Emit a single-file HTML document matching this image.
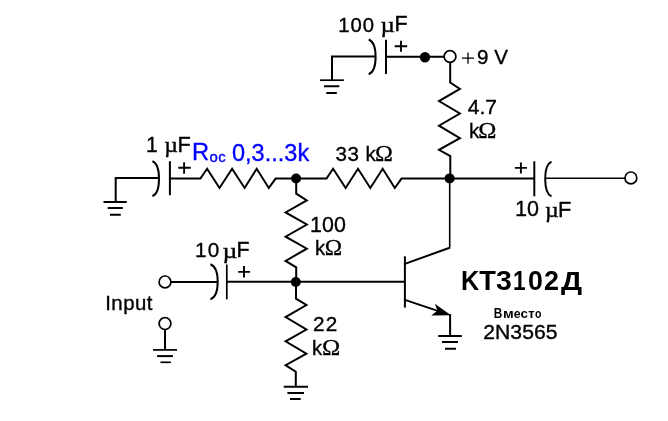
<!DOCTYPE html>
<html><head><meta charset="utf-8">
<style>
html,body{margin:0;padding:0;background:#fff;width:668px;height:421px;overflow:hidden}
svg{display:block;will-change:transform}
.w{fill:none;stroke:#000;stroke-width:2;stroke-linejoin:miter;stroke-linecap:butt}
.p{fill:none;stroke:#000;stroke-width:1.9}
.o{fill:#fff;stroke:#000;stroke-width:1.7}
</style></head><body>
<svg width="668" height="421" viewBox="0 0 668 421">
<!-- TOP: 100uF cap -->
<path class="w" d="M332 80.2V56.6H376"/>
<path class="w" style="stroke-width:1.7" d="M319.9 80.2H343.9"/>
<path class="w" d="M324 86.2H339.3M326.3 93H336.8"/>
<path class="w" d="M368.7 39.5C373.7 41.5 375.6 47.3 375.6 56.9S373.7 72.2 368.7 74.2"/>
<path class="w" d="M386 39.7V73.9M386 56.7H444"/>
<path class="p" d="M394.7 46.2H407.2M401 40.8V51.7"/>
<circle cx="425" cy="57.2" r="5.2"/>
<circle cx="450" cy="56.5" r="5.9" class="o"/>
<path class="p" style="stroke-width:1.3" d="M462 58.1H474M468 52.4V63.8"/>
<!-- 4.7k resistor -->
<path class="w" d="M450.2 62.4V82.5L459.9 88.9L439 101.1L459.9 113.5L439 125.7L459.9 138.1L439 149.8L450.3 156.2V178.3"/>
<!-- middle row -->
<path class="w" d="M115.7 201.9V178.1H160"/>
<path class="w" d="M103.5 201.9H126.7M107.7 207.9H122.8M110 214.7H120.8"/>
<path class="w" d="M152.4 161.2C157.2 163.2 159.0 169.1 159.0 178.7S157.2 194.2 152.4 196.2"/>
<path class="w" d="M169.9 161.2V195.3M169.9 178.6H200.4L207.1 168.8L219.5 188L232.1 168.8L244.6 188L256.7 168.8L268.8 188L275.6 178.6H326.5L333.1 168.8L345.6 188L358 168.8L370.3 188L382.7 168.8L394.8 188L401.5 178.6H534.3"/>
<path class="p" d="M178.3 167.8H190.7M184.1 162.3V173.7"/>
<circle cx="296.1" cy="178.5" r="5.0"/>
<circle cx="449.6" cy="178.4" r="5.0"/>
<path class="w" d="M534.3 161.3V196.3"/>
<path class="w" d="M551.5 161.6C547.0 163.6 545.2 169.4 545.2 178.9S547.0 194.3 551.5 196.3"/>
<path class="p" d="M514.9 167.9H526.9M520.9 162.4V173.6"/>
<path class="w" style="stroke-width:1.6" d="M545 178.3H625"/>
<circle cx="630.9" cy="177.9" r="5.9" class="o"/>
<!-- 100k -->
<path class="w" d="M296.2 178.6V193.6L306.8 200.4L285.6 212.4L306.8 224.5L285.6 236.7L306.8 248.7L285.6 260.9L296.2 267.3V282"/>
<!-- base line -->
<path class="w" d="M171 282H218"/>
<path class="w" d="M210.4 264.2C215.7 266.2 217.7 272.1 217.7 281.8S215.7 297.4 210.4 299.4"/>
<path class="w" style="stroke-width:1.7" d="M226.8 264.5V299.4"/>
<path class="w" d="M227 281.8H405"/>
<path class="p" d="M238.2 271.9H250M244 266.1V277.6"/>
<circle cx="165" cy="281.9" r="5.9" class="o"/>
<circle cx="295.8" cy="282" r="5.0"/>
<circle cx="165" cy="323.6" r="5.9" class="o"/>
<path class="w" d="M165 329.5V349.9"/>
<path class="w" style="stroke-width:1.7" d="M153 349.9H177"/>
<path class="w" d="M157.1 356.1H172.9"/>
<path class="w" style="stroke-width:1.7" d="M160.4 362.3H170.9"/>
<!-- 22k -->
<path class="w" d="M296 282.3V298.6L306.4 305L285.6 317.1L306.4 329.5L285.6 341.3L306.4 353.7L285.6 365.2L295.8 371.7V386.8"/>
<path class="w" d="M283.8 386.8H308M287.4 393H304M290 399.1H300.7"/>
<!-- transistor -->
<path class="w" d="M404.9 256.3V307.6"/>
<path class="w" d="M404.9 263.9L449.7 247.7"/>
<path class="w" style="stroke-width:1.6" d="M449.7 248.6V178.3"/>
<path class="w" d="M404.9 299.9L440 311.6"/>
<path d="M434.8 303.8L451 315.2L431.3 315.6L437.5 310.6Z" fill="#000"/>
<path class="w" d="M450.1 314V335.9"/>
<path class="w" d="M438.3 335.9H461.8M442 342.1H458M445 348.7H456"/>
<text x="338.2" y="31.8" style="font-family:'Liberation Sans',sans-serif;font-size:20.28px;letter-spacing:0.95px" fill="#000" stroke="#000" stroke-width="0.35">100</text>
<text transform="translate(380.6,32.2) scale(1.22,1)" style="font-family:'Liberation Serif',serif;font-size:20.5px" fill="#000" stroke="#000" stroke-width="0.35">µ</text>
<text x="394.4" y="31.1" style="font-family:'Liberation Sans',sans-serif;font-size:21.59px" fill="#000" stroke="#000" stroke-width="0.35">F</text>
<text x="476.9" y="64.1" style="font-family:'Liberation Sans',sans-serif;font-size:20.56px;letter-spacing:0.05px" fill="#000" stroke="#000" stroke-width="0.35">9 V</text>
<text x="467.7" y="114.1" style="font-family:'Liberation Sans',sans-serif;font-size:21.0px;letter-spacing:0.05px" fill="#000" stroke="#000" stroke-width="0.35">4.7</text>
<text x="469" y="138" style="font-family:'Liberation Sans',sans-serif;font-size:20.55px" fill="#000" stroke="#000" stroke-width="0.35">k</text>
<text transform="translate(478.3,138.3) scale(1.04,1)" style="font-family:'Liberation Serif',serif;font-size:23.48px" fill="#000" stroke="#000" stroke-width="0.35">Ω</text>
<text x="145.9" y="152.4" style="font-family:'Liberation Sans',sans-serif;font-size:21.16px" fill="#000" stroke="#000" stroke-width="0.35">1</text>
<text transform="translate(164.2,152.1) scale(1.16,1)" style="font-family:'Liberation Serif',serif;font-size:20.5px" fill="#000" stroke="#000" stroke-width="0.35">µ</text>
<text x="177.5" y="152" style="font-family:'Liberation Sans',sans-serif;font-size:21.74px" fill="#000" stroke="#000" stroke-width="0.35">F</text>
<text x="335.5" y="160.8" style="font-family:'Liberation Sans',sans-serif;font-size:20.54px;letter-spacing:0.47px" fill="#000" stroke="#000" stroke-width="0.35">33 k</text>
<text transform="translate(375,160.5) scale(1.027,1)" style="font-family:'Liberation Serif',serif;font-size:23.48px" fill="#000" stroke="#000" stroke-width="0.35">Ω</text>
<text x="514.9" y="216.4" style="font-family:'Liberation Sans',sans-serif;font-size:21.55px;letter-spacing:0.2px" fill="#000" stroke="#000" stroke-width="0.35">10</text>
<text transform="translate(545.1,217.2) scale(1.16,1)" style="font-family:'Liberation Serif',serif;font-size:20.5px" fill="#000" stroke="#000" stroke-width="0.35">µ</text>
<text x="558.1" y="216.5" style="font-family:'Liberation Sans',sans-serif;font-size:21.74px" fill="#000" stroke="#000" stroke-width="0.35">F</text>
<text x="310.1" y="232.1" style="font-family:'Liberation Sans',sans-serif;font-size:21.41px" fill="#000" stroke="#000" stroke-width="0.35">100</text>
<text x="315" y="255" style="font-family:'Liberation Sans',sans-serif;font-size:20.27px" fill="#000" stroke="#000" stroke-width="0.35">k</text>
<text transform="translate(324.7,255.3) scale(1.007,1)" style="font-family:'Liberation Serif',serif;font-size:23.18px" fill="#000" stroke="#000" stroke-width="0.35">Ω</text>
<text x="195.1" y="257.2" style="font-family:'Liberation Sans',sans-serif;font-size:20.7px;letter-spacing:1.2px" fill="#000" stroke="#000" stroke-width="0.35">10</text>
<text transform="translate(222.5,258) scale(1.26,1)" style="font-family:'Liberation Serif',serif;font-size:20.5px" fill="#000" stroke="#000" stroke-width="0.35">µ</text>
<text x="236.4" y="257.2" style="font-family:'Liberation Sans',sans-serif;font-size:21.3px" fill="#000" stroke="#000" stroke-width="0.35">F</text>
<text x="105.2" y="309.8" style="font-family:'Liberation Sans',sans-serif;font-size:20.4px;letter-spacing:0.47px" fill="#000" stroke="#000" stroke-width="0.35">Input</text>
<text x="313.1" y="331.1" style="font-family:'Liberation Sans',sans-serif;font-size:20.71px;letter-spacing:1.2px" fill="#000" stroke="#000" stroke-width="0.35">22</text>
<text x="312" y="355" style="font-family:'Liberation Sans',sans-serif;font-size:20.27px" fill="#000" stroke="#000" stroke-width="0.35">k</text>
<text transform="translate(321.9,355.3) scale(1.06,1)" style="font-family:'Liberation Serif',serif;font-size:23.18px" fill="#000" stroke="#000" stroke-width="0.35">Ω</text>
<text transform="translate(483.2,338.7) scale(1.08,1)" style="font-family:'Liberation Sans',sans-serif;font-size:19.58px;letter-spacing:0.06px" fill="#000" stroke="#000" stroke-width="0.35">2N3565</text>
<text x="192" y="160.4" style="font-family:'Liberation Sans',sans-serif;font-size:23.71px" fill="#0000ff" stroke="#0000ff" stroke-width="0.35">R</text>
<text x="209.5" y="162.2" style="font-family:'Liberation Sans',sans-serif;font-size:14.91px;letter-spacing:0.5px" fill="#0000ff" stroke="#0000ff" stroke-width="0.35">oc</text>
<text x="232" y="160.7" style="font-family:'Liberation Sans',sans-serif;font-size:23.5px;letter-spacing:0.01px" fill="#0000ff" stroke="#0000ff" stroke-width="0.35">0,3...3k</text>
<text transform="translate(461,290.3) scale(0.889,1)" style="font-family:'Liberation Sans',sans-serif;font-size:28.41px;font-weight:700" fill="#000">K</text>
<text transform="translate(479.3,290.3) scale(0.959,1)" style="font-family:'Liberation Sans',sans-serif;font-size:28.41px;font-weight:700" fill="#000">T</text>
<text transform="translate(496,290.3) scale(1.031,1)" style="font-family:'Liberation Sans',sans-serif;font-size:27.61px;font-weight:700" fill="#000">3</text>
<text transform="translate(513,290.3) scale(0.8,1)" style="font-family:'Liberation Sans',sans-serif;font-size:28.41px;font-weight:700" fill="#000">1</text>
<text transform="translate(528.1,290.3) scale(0.969,1)" style="font-family:'Liberation Sans',sans-serif;font-size:27.61px;font-weight:700" fill="#000">0</text>
<text transform="translate(543.9,290.3) scale(0.962,1)" style="font-family:'Liberation Sans',sans-serif;font-size:28.0px;font-weight:700" fill="#000">2</text>
<text transform="translate(560.9,289.6) scale(1.117,1)" style="font-family:'Liberation Sans',sans-serif;font-size:26.5px;font-weight:700" fill="#000">Д</text>
<text transform="translate(493.7,318.2) scale(0.85,1)" style="font-family:'Liberation Sans',sans-serif;font-size:13.91px;font-weight:700" fill="#000">В</text>
<text transform="translate(503,318.2) scale(1.171,1)" style="font-family:'Liberation Sans',sans-serif;font-size:12.45px;font-weight:700" fill="#000">м</text>
<text transform="translate(513.7,318) scale(0.971,1)" style="font-family:'Liberation Sans',sans-serif;font-size:12.73px;font-weight:700" fill="#000">е</text>
<text transform="translate(520.5,318) scale(1.05,1)" style="font-family:'Liberation Sans',sans-serif;font-size:12.73px;font-weight:700" fill="#000">с</text>
<text transform="translate(528.3,318.2) scale(1.05,1)" style="font-family:'Liberation Sans',sans-serif;font-size:12.45px;font-weight:700" fill="#000">т</text>
<text transform="translate(535.1,318) scale(0.829,1)" style="font-family:'Liberation Sans',sans-serif;font-size:12.73px;font-weight:700" fill="#000">о</text>
</svg>
</body></html>
